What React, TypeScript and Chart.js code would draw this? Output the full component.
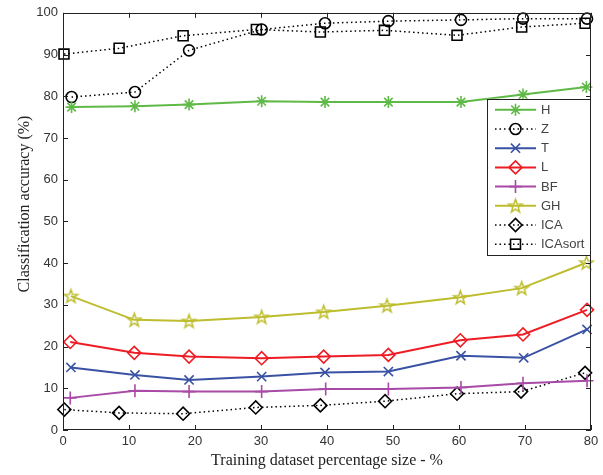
import { useEffect, useRef } from 'react';
import { Chart, registerables } from 'chart.js';
import { drawPoint } from 'chart.js/helpers';

Chart.register(...registerables);

const seriesNames = ['H', 'Z', 'T', 'L', 'BF', 'GH', 'ICA', 'ICAsort'];

const hX = [1.3, 10.9, 19.1, 30.1, 39.7, 49.3, 60.3, 69.7, 79.3];
const hY = [77.4, 77.6, 78.0, 78.8, 78.6, 78.6, 78.6, 80.4, 82.2];

const zX = [1.3, 10.9, 19.1, 30.1, 39.7, 49.3, 60.3, 69.7, 79.4];
const zY = [79.8, 81.0, 91.0, 96.0, 97.5, 98.0, 98.3, 98.6, 98.6];

const tX = [1.2, 10.9, 19.1, 30.1, 39.7, 49.3, 60.3, 69.8, 79.4];
const tY = [15.0, 13.2, 12.0, 12.8, 13.8, 14.0, 17.8, 17.3, 24.1];

const lX = [1.1, 10.8, 19.1, 30.1, 39.5, 49.3, 60.2, 69.7, 79.4];
const lY = [21.1, 18.5, 17.6, 17.2, 17.6, 18.0, 21.5, 22.9, 28.8];

const bfX = [1.1, 10.9, 19.1, 30.1, 39.8, 49.3, 60.3, 69.7, 79.4];
const bfY = [7.7, 9.4, 9.2, 9.2, 9.8, 9.8, 10.2, 11.2, 11.8];

const ghX = [1.2, 10.8, 19.1, 30.1, 39.5, 49.1, 60.2, 69.5, 79.3];
const ghY = [32.1, 26.4, 26.1, 27.1, 28.3, 29.8, 31.8, 34.0, 40.1];

const icaX = [0.2, 8.5, 18.2, 29.2, 39.0, 48.8, 59.7, 69.4, 79.1];
const icaY = [4.9, 4.1, 3.9, 5.4, 5.9, 6.9, 8.7, 9.2, 13.7];

const icaSortX = [0.15, 8.5, 18.2, 29.3, 39.0, 48.7, 59.7, 69.5, 79.1];
const icaSortY = [90.1, 91.5, 94.5, 96.0, 95.4, 95.8, 94.6, 96.6, 97.5];

const xTitle = 'Training dataset percentage size - %';
const yTitle = 'Classification accuracy (%)';

const GREEN = '#5fb946';
const BLUE = '#3a52a3';
const RED = '#ee1c24';
const PURPLE = '#a84aa6';
const OLIVE = '#bdbd2e';
const BLACK = '#000000';

const TITLE_FONT = '16px "Liberation Serif", "Times New Roman", serif';

function pts(xs: number[], ys: number[]) {
  return xs.map((x, i) => ({ x, y: ys[i] }));
}

function makePentagram(color: string, r: number, lw: number) {
  const size = Math.ceil(2 * r + lw * 2 + 2);
  const c = document.createElement('canvas');
  c.width = size;
  c.height = size;
  const ctx = c.getContext('2d')!;
  ctx.translate(size / 2, size / 2 + 0.5);
  ctx.beginPath();
  for (let i = 0; i < 10; i++) {
    const rr = i % 2 === 0 ? r : r * 0.4;
    const a = -Math.PI / 2 + (i * Math.PI) / 5;
    ctx.lineTo(rr * Math.cos(a), rr * Math.sin(a));
  }
  ctx.closePath();
  ctx.strokeStyle = color;
  ctx.lineWidth = lw;
  ctx.lineJoin = 'miter';
  ctx.stroke();
  return c;
}

const frameAndTicks = {
  id: 'frameAndTicks',
  afterDatasetsDraw(chart: any) {
    const { ctx, chartArea: a, scales } = chart;
    const xs = scales.x;
    const ys = scales.y;
    ctx.save();
    ctx.strokeStyle = '#222';
    ctx.lineWidth = 1;
    ctx.setLineDash([]);
    ctx.strokeRect(Math.round(a.left) + 0.5, Math.round(a.top) + 0.5, Math.round(a.right - a.left) - 1, Math.round(a.bottom - a.top) - 1);
    const tl = 5;
    ctx.beginPath();
    xs.ticks.forEach((t: any) => {
      const px = Math.round(xs.getPixelForValue(t.value)) + 0.5;
      ctx.moveTo(px, a.bottom);
      ctx.lineTo(px, a.bottom - tl);
      ctx.moveTo(px, a.top);
      ctx.lineTo(px, a.top + tl);
    });
    ys.ticks.forEach((t: any) => {
      const py = Math.round(ys.getPixelForValue(t.value)) + 0.5;
      ctx.moveTo(a.left, py);
      ctx.lineTo(a.left + tl, py);
      ctx.moveTo(a.right, py);
      ctx.lineTo(a.right - tl, py);
    });
    ctx.stroke();
    // y axis title (rotated), placed like the reference
    ctx.save();
    ctx.translate(25, 204);
    ctx.rotate(-Math.PI / 2);
    ctx.fillStyle = '#222';
    ctx.font = TITLE_FONT;
    ctx.textAlign = 'center';
    ctx.textBaseline = 'middle';
    ctx.fillText(yTitle, 0, 0);
    ctx.restore();
    ctx.restore();
  },
};

const insideLegend = {
  id: 'insideLegend',
  afterDraw(chart: any) {
    const { ctx, chartArea: a } = chart;
    const boxL = a.right - 104;
    const boxR = a.right - 1;
    const boxT = a.top + 86;
    const boxB = a.top + 242;
    ctx.save();
    ctx.fillStyle = '#ffffff';
    ctx.fillRect(boxL, boxT, boxR - boxL, boxB - boxT);
    ctx.strokeStyle = '#222';
    ctx.lineWidth = 1;
    ctx.strokeRect(Math.round(boxL) + 0.5, Math.round(boxT) + 0.5, Math.round(boxR - boxL), Math.round(boxB - boxT));
    chart.data.datasets.forEach((ds: any, i: number) => {
      const y = boxT + 11 + i * 19.2;
      const x0 = boxL + 8;
      const x1 = boxL + 49;
      const xm = (x0 + x1) / 2;
      ctx.strokeStyle = ds.borderColor;
      ctx.lineWidth = ds.borderWidth;
      ctx.setLineDash(ds.borderDash || []);
      ctx.beginPath();
      ctx.moveTo(x0, y);
      ctx.lineTo(x1, y);
      ctx.stroke();
      ctx.setLineDash([]);
      ctx.strokeStyle = ds.pointBorderColor;
      ctx.fillStyle = 'rgba(0,0,0,0)';
      ctx.lineWidth = ds.pointBorderWidth;
      drawPoint(ctx, { pointStyle: ds.pointStyle, radius: ds.pointRadius, borderWidth: ds.pointBorderWidth, rotation: 0 }, xm, y);
      ctx.fillStyle = '#444';
      ctx.font = '13px "Liberation Sans", Arial, sans-serif';
      ctx.textBaseline = 'middle';
      ctx.textAlign = 'left';
      ctx.fillText(ds.label, x1 + 5, y + 0.5);
    });
    ctx.restore();
  },
};

export default function App() {
  const ref = useRef<HTMLCanvasElement | null>(null);

  useEffect(() => {
    document.body.style.margin = '0';
    const canvas = ref.current!;
    const pentagram = makePentagram(OLIVE, 7, 1.5);
    const dotted = [1.5, 3];
    const mk = (label: string, data: any[], color: string, style: any, radius: number, dashed: boolean, bw = 2, pbw = 1.6) => ({
      label,
      data,
      borderColor: dashed ? BLACK : color,
      backgroundColor: 'rgba(0,0,0,0)',
      borderWidth: dashed ? 1.5 : bw,
      borderDash: dashed ? dotted : [],
      pointStyle: style,
      pointRadius: radius,
      pointHoverRadius: radius,
      pointBorderColor: color,
      pointBackgroundColor: 'rgba(0,0,0,0)',
      pointBorderWidth: pbw,
      tension: 0,
      clip: false,
      showLine: true,
    });

    const datasets = [
      mk(seriesNames[0], pts(hX, hY), GREEN, 'star', 6, false),
      mk(seriesNames[1], pts(zX, zY), BLACK, 'circle', 5.5, true),
      mk(seriesNames[2], pts(tX, tY), BLUE, 'crossRot', 6.5, false),
      mk(seriesNames[3], pts(lX, lY), RED, 'rectRot', 6.5, false),
      mk(seriesNames[4], pts(bfX, bfY), PURPLE, 'cross', 6.5, false),
      mk(seriesNames[5], pts(ghX, ghY), OLIVE, pentagram, 7, false),
      mk(seriesNames[6], pts(icaX, icaY), BLACK, 'rectRot', 6.5, true),
      mk(seriesNames[7], pts(icaSortX, icaSortY), BLACK, 'rect', 7, true),
    ];

    const tickFont = { family: '"Liberation Sans", Arial, sans-serif', size: 13 };
    const titleFont = { family: '"Liberation Serif", "Times New Roman", serif', size: 16 };

    const chart = new Chart(canvas, {
      type: 'scatter',
      data: { datasets },
      options: {
        animation: false,
        responsive: false,
        maintainAspectRatio: false,
        events: [],
        layout: { padding: { top: 12, right: 12, left: 0, bottom: 0 } },
        plugins: { legend: { display: false }, tooltip: { enabled: false } },
        scales: {
          x: {
            type: 'linear',
            min: 0,
            max: 80,
            ticks: { stepSize: 10, color: '#333', font: tickFont, padding: 4, maxRotation: 0 },
            grid: { display: false, drawTicks: false },
            border: { display: false },
            title: { display: true, text: xTitle, color: '#222', font: titleFont, padding: { top: 0, bottom: 5 } },
            afterFit: (s: any) => { s.height = 45; },
          },
          y: {
            type: 'linear',
            min: 0,
            max: 100,
            ticks: { stepSize: 10, color: '#333', font: tickFont, padding: 5 },
            grid: { display: false, drawTicks: false },
            border: { display: false },
            title: { display: false },
            afterFit: (s: any) => { s.width = 63; },
          },
        },
      },
      plugins: [frameAndTicks, insideLegend],
    });
    return () => chart.destroy();
  }, []);

  return (
    <div style={{ width: 603, height: 475, position: 'relative' }}>
      <canvas ref={ref} width={603} height={475} style={{ width: 603, height: 475, display: 'block' }} />
    </div>
  );
}
